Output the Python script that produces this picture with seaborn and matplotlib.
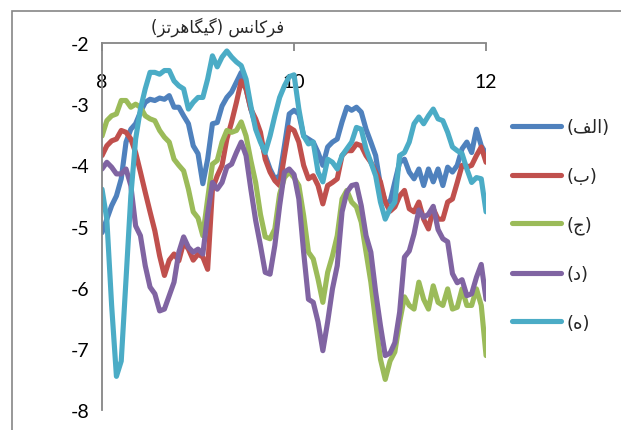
import matplotlib
matplotlib.use("Agg")
import matplotlib.pyplot as plt
from matplotlib.patches import Rectangle
import seaborn as sns
import numpy as np
import pandas as pd

# frequency grid, GHz (8 to 12 every 0.05)
freq = np.linspace(8, 12, 81)

alef = [-5.1, -4.88, -4.66, -4.5, -4.22, -3.62, -3.41, -3.32, -3.13, -2.97,
        -2.92, -2.94, -2.9, -2.92, -2.86, -3.05, -3.05, -3.19, -3.32, -3.68,
        -3.81, -4.3, -3.9, -3.32, -3.3, -3.03, -2.89, -2.8, -2.64, -2.48,
        -2.75, -3.08, -3.35, -3.57, -3.84, -4.06, -4.22, -4.17, -3.68, -3.16,
        -3.1, -3.16, -3.52, -3.57, -3.62, -3.79, -4.0, -3.7, -3.62, -3.57,
        -3.29, -3.05, -3.1, -3.05, -3.13, -3.41, -3.62, -3.84, -4.33, -4.6,
        -4.6, -4.27, -3.95, -3.9, -4.11, -4.22, -4.06, -4.33, -4.06, -4.27,
        -4.06, -4.33, -4.03, -4.11, -4.0, -3.73, -3.62, -3.79, -3.41, -3.68,
        -3.81]

be = [-3.84, -3.68, -3.6, -3.57, -3.43, -3.46, -3.57, -3.79, -4.11, -4.44,
      -4.76, -5.07, -5.48, -5.8, -5.55, -5.45, -5.56, -5.26, -5.37, -5.55,
      -5.45, -5.5, -5.7, -4.39, -4.17, -4.0, -3.57, -3.29, -2.97, -2.62,
      -2.75, -3.08, -3.24, -3.46, -3.9, -4.11, -4.25, -4.33, -3.84, -3.38,
      -3.43, -3.62, -4.0, -4.22, -4.17, -4.33, -4.63, -4.33, -4.28, -4.22,
      -3.84, -3.76, -3.76, -3.65, -3.68, -3.84, -3.95, -4.11, -4.27, -4.6,
      -4.75, -4.68, -4.5, -4.41, -4.71, -4.76, -4.6, -4.88, -5.04, -4.71,
      -4.88, -4.88, -4.6, -4.55, -4.28, -4.0, -4.03, -4.0, -3.84, -3.7,
      -3.95]

jim = [-3.52, -3.27, -3.19, -3.16, -2.94, -2.94, -3.05, -3.0, -3.05, -3.19,
       -3.24, -3.27, -3.43, -3.54, -3.62, -3.9, -4.0, -4.09, -4.39, -4.76,
       -4.86, -5.15, -4.55, -3.98, -3.92, -3.62, -3.43, -3.46, -3.43, -3.29,
       -3.52, -3.92, -4.28, -4.8, -5.17, -5.2, -5.04, -4.47, -4.2, -4.11,
       -4.2, -4.33, -4.82, -5.42, -5.53, -5.86, -6.24, -5.75, -5.48, -5.15,
       -4.55, -4.41, -4.6, -4.68, -4.93, -5.42, -5.91, -6.56, -7.17, -7.5,
       -7.2, -7.05, -6.56, -6.15, -6.29, -6.35, -5.91, -6.19, -6.35, -5.97,
       -6.24, -6.29, -6.02, -6.35, -6.32, -6.02, -6.29, -6.29, -6.02, -6.29,
       -7.11]

dal = [-4.06, -3.95, -4.03, -4.14, -4.14, -4.06, -4.33, -4.99, -5.15, -5.64,
       -5.99, -6.1, -6.38, -6.35, -6.13, -5.91, -5.42, -5.17, -5.34, -5.42,
       -5.37, -5.45, -4.8, -4.28, -4.39, -4.28, -4.03, -3.98, -3.79, -3.62,
       -3.84, -4.39, -4.9, -5.31, -5.75, -5.78, -5.31, -4.66, -4.11, -4.06,
       -4.15, -4.55, -5.42, -6.19, -6.24, -6.56, -7.03, -6.56, -6.02, -5.64,
       -4.76, -4.44, -4.33, -4.31, -4.66, -5.15, -5.42, -6.07, -6.62, -7.11,
       -7.07, -6.9, -6.4, -5.5, -5.4, -5.12, -4.73, -4.85, -4.8, -4.67,
       -5.05, -5.2, -5.25, -5.77, -5.92, -5.87, -6.13, -6.1, -5.83, -5.62,
       -6.19]

he = [-4.39, -4.88, -6.29, -7.45, -7.2, -5.86, -4.5, -3.57, -3.08, -2.75,
      -2.48, -2.48, -2.51, -2.45, -2.45, -2.62, -2.7, -2.75, -3.08, -2.97,
      -2.89, -2.89, -2.59, -2.21, -2.39, -2.23, -2.13, -2.23, -2.31, -2.37,
      -2.59, -3.03, -3.41, -3.62, -3.79, -3.52, -3.19, -2.89, -2.7, -2.55,
      -2.52, -3.08, -3.52, -3.65, -3.62, -4.11, -4.27, -3.9, -3.95, -4.06,
      -3.84, -3.73, -3.62, -3.38, -3.41, -3.73, -3.95, -4.17, -4.6, -4.88,
      -4.71, -4.6, -3.84, -3.79, -3.62, -3.32, -3.21, -3.32, -3.19, -3.08,
      -3.24, -3.27, -3.46, -3.7, -3.76, -3.81, -4.06, -4.28, -4.2, -4.22,
      -4.76]

# legend labels (Arabic presentation forms, already in visual order)
labels = ["(\ufed2\ufedf\ufe8d)", "(\ufe8f)", "(\ufe9d)", "(\ufea9)", "(\ufee9)"]
colors = ["#4F81BD", "#C0504D", "#9BBB59", "#8064A2", "#4BACC6"]
# "فرکانس (گیگاهرتز)"
xlabel = "(\ufeb0\ufe97\ufeae\ufeeb\ufe8e\ufb95\ufbff\ufb94) \ufeb2\ufee7\ufe8e\ufb90\ufeae\ufed3"

df = pd.DataFrame({"freq": freq, labels[0]: alef, labels[1]: be,
                   labels[2]: jim, labels[3]: dal, labels[4]: he})
df = df.melt(id_vars="freq", var_name="series", value_name="value")

sns.set_style("white")
plt.rcParams["font.family"] = ["Lato", "DejaVu Sans"]
plt.rcParams["axes.unicode_minus"] = False

fig = plt.figure(figsize=(6.21, 4.31), dpi=100)
ax = fig.add_axes([0.1643, 0.0464, 0.6184, 0.8515])

sns.lineplot(data=df, x="freq", y="value", hue="series", hue_order=labels,
             palette=colors, linewidth=3.7, estimator=None, errorbar=None, ax=ax)
for ln in ax.lines:
    ln.set_solid_capstyle("round")
    ln.set_solid_joinstyle("round")

ax.set_xlim(8, 12)
ax.set_ylim(-8, -2)
ax.set_xticks([8, 10, 12])
ax.set_yticks([-8, -7, -6, -5, -4, -3, -2])

grey = "#868686"
for side in ["right", "bottom"]:
    ax.spines[side].set_visible(False)
for side in ["left", "top"]:
    ax.spines[side].set_color(grey)
    ax.spines[side].set_linewidth(1.3)

ax.xaxis.tick_top()
ax.xaxis.set_label_position("top")
ax.tick_params(axis="x", direction="in", length=6, width=1.3, color=grey,
               pad=-34, labelsize=14, labelcolor="black")
ax.tick_params(axis="y", direction="out", length=5, width=1.3, color=grey,
               pad=4, labelsize=14, labelcolor="black")

ax.set_xlabel(xlabel, family="DejaVu Sans", fontsize=12)
ax.xaxis.set_label_coords(0.302, 1.03)
ax.set_ylabel("")

leg = ax.legend(loc="upper left", bbox_to_anchor=(0.8245, 0.723),
                bbox_transform=fig.transFigure, frameon=False,
                prop={"family": "DejaVu Sans", "size": 13},
                handlelength=2.7, handletextpad=0.3, labelspacing=1.7,
                borderpad=0, borderaxespad=0)
for ln in leg.get_lines():
    ln.set_linewidth(3.7)
    ln.set_solid_capstyle("round")

fig.patches.append(Rectangle((12 / 621, -0.1), 1.1, 1.0722, transform=fig.transFigure,
                             fill=False, edgecolor=grey, linewidth=1.2))

fig.savefig("out.png", dpi=100)
